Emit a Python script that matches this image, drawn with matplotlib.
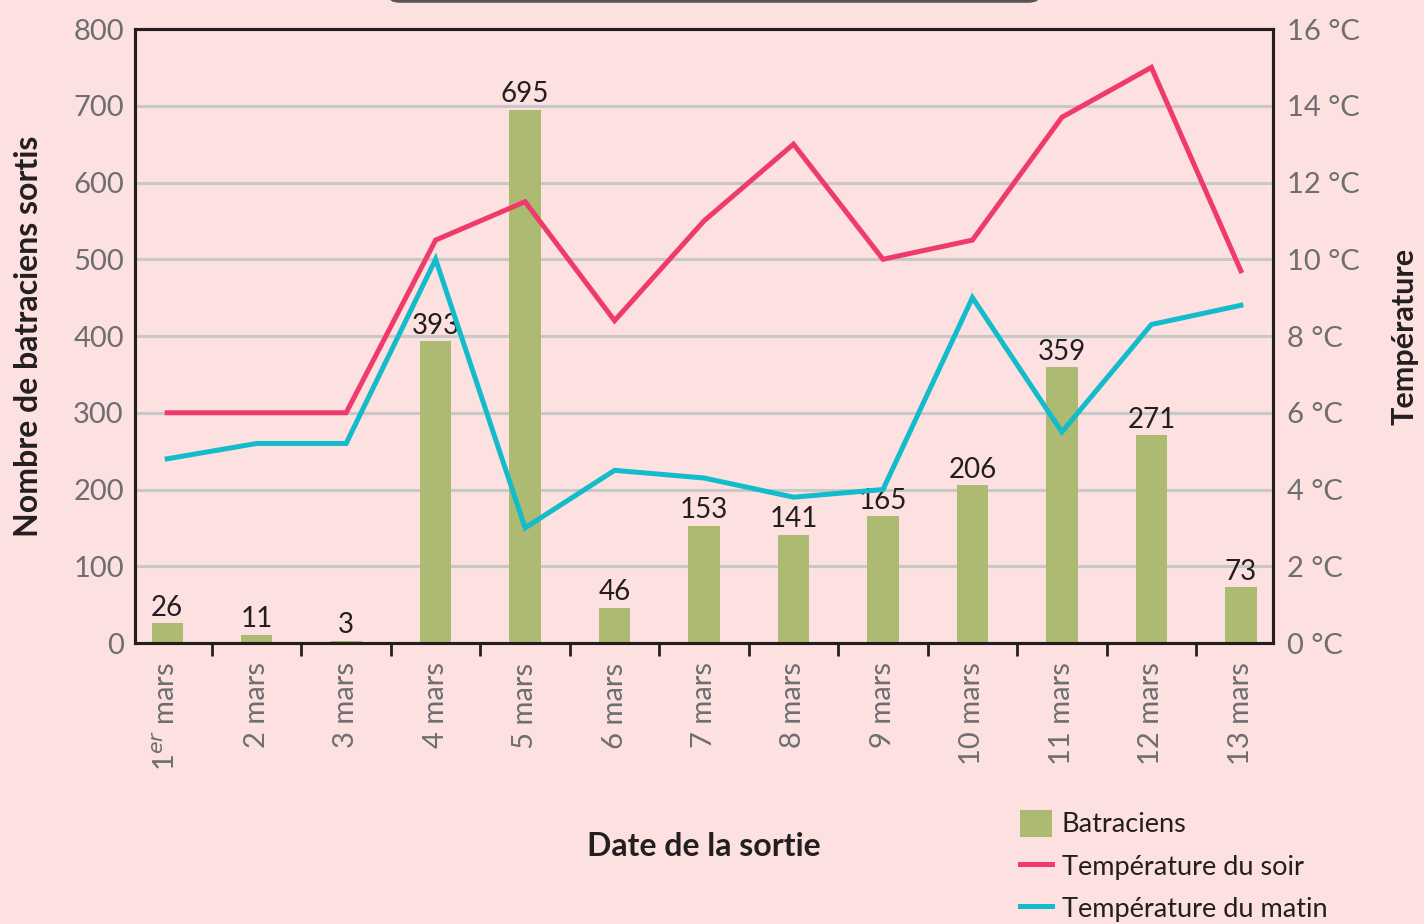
import numpy as np
import matplotlib.pyplot as plt
from matplotlib.patches import FancyBboxPatch, Patch
from matplotlib.lines import Line2D

# data
dates = ["1$^{er}$ mars", "2 mars", "3 mars", "4 mars", "5 mars", "6 mars",
         "7 mars", "8 mars", "9 mars", "10 mars", "11 mars", "12 mars", "13 mars"]
batraciens = [26, 11, 3, 393, 695, 46, 153, 141, 165, 206, 359, 271, 73]
temp_soir = [6.0, 6.0, 6.0, 10.5, 11.5, 8.4, 11.0, 13.0, 10.0, 10.5, 13.7, 15.0, 9.7]
temp_matin = [4.8, 5.2, 5.2, 10.0, 3.0, 4.5, 4.3, 3.8, 4.0, 9.0, 5.5, 8.3, 8.8]

bg = "#fde0e0"
green = "#adba72"
red = "#ef3b6b"
cyan = "#12bccb"
grey_txt = "#6d6e70"
dark = "#231f20"

plt.rcParams['font.family'] = ['Lato', 'DejaVu Sans']

fig = plt.figure(figsize=(14.24, 9.24), dpi=100, facecolor=bg)
ax = fig.add_axes([0.0948, 0.3041, 0.7992, 0.6645])
ax.set_facecolor(bg)
x = np.arange(len(dates))

# grid and bars
ax.set_ylim(0, 800)
ax.set_yticks(range(0, 801, 100))
ax.yaxis.grid(True, color="#c8c8c8", lw=2.2, zorder=0)
ax.set_axisbelow(True)
ax.bar(x, batraciens, width=0.35, color=green, zorder=2)
for xi, v in zip(x, batraciens):
    ax.text(xi, v + 3, str(v), ha="center", va="bottom", fontsize=20, color=dark, zorder=5)

ax.set_xlim(-0.36, len(dates) - 0.64)
ax.set_xticks(x)
ax.set_xticklabels(dates, rotation=90, fontsize=21, color=grey_txt)
ax.tick_params(axis="x", length=0, pad=14)
ax.set_xticks(np.arange(0.5, len(dates) - 1, 1), minor=True)
ax.tick_params(axis="x", which="minor", length=9, width=2, color=dark)
ax.tick_params(axis="y", length=0, pad=8, labelsize=21, labelcolor=grey_txt)

for s in ax.spines.values():
    s.set_linewidth(2.2)
    s.set_color(dark)

ax.set_ylabel("Nombre de batraciens sortis", fontsize=23, fontweight="bold",
              color=dark, labelpad=22)
ax.set_xlabel("Date de la sortie", fontsize=23, fontweight="bold", color=dark, labelpad=44)

# temperatures
ax2 = ax.twinx()
ax2.set_ylim(0, 16)
ax2.set_yticks(range(0, 17, 2))
ax2.set_yticklabels([f"{t} °C" for t in range(0, 17, 2)])
ax2.tick_params(axis="y", length=0, pad=10, labelsize=21, labelcolor=grey_txt)
ax2.plot(x, temp_soir, color=red, lw=3.6, solid_joinstyle="miter", zorder=3)
ax2.plot(x, temp_matin, color=cyan, lw=3.6, solid_joinstyle="miter", zorder=3)
for s in ax2.spines.values():
    s.set_linewidth(2.2)
    s.set_color(dark)
ax2.set_ylabel("Température", fontsize=22, fontweight="bold", color=dark, labelpad=22)

# legend
handles = [Patch(facecolor=green, edgecolor="none"),
           Line2D([], [], color=red, lw=3.6),
           Line2D([], [], color=cyan, lw=3.6)]
fig.legend(handles, ["Batraciens", "Température du soir", "Température du matin"],
           loc="upper left", bbox_to_anchor=(0.699, 0.150), frameon=False,
           fontsize=19.5, labelcolor=dark, handlelength=1.2, handleheight=1.15,
           handletextpad=0.35, labelspacing=0.55)

# box at top edge
box = FancyBboxPatch((0.273, 0.9985), 0.457, 0.05, boxstyle="round,pad=0,rounding_size=0.008",
                     transform=fig.transFigure, facecolor=bg, edgecolor="#555555", lw=2)
fig.patches.append(box)

fig.savefig("out.png", dpi=100, facecolor=bg)
